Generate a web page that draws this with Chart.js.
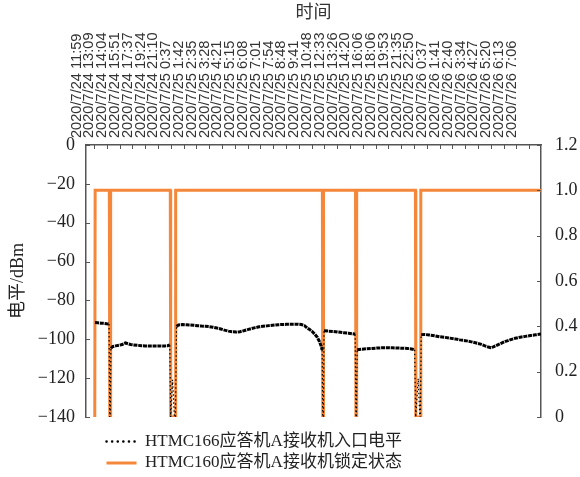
<!DOCTYPE html>
<html lang="zh">
<head>
  <meta charset="UTF-8">
  <title>HTMC 应答机接收机电平与锁定状态</title>
  <script src="https://cdn.jsdelivr.net/npm/chart.js"></script>
  <style>
    body {
      margin: 0;
      background: #fff;
    }
    #chart-container {
      width: 580px;
      height: 477px;
    }
  </style>
</head>
<body>
  <div id="chart-container">
    <canvas id="levelChart"></canvas>
  </div>

  <script>
    // top axis labels, one per tick (tick i sits at x = i)
    const timeLabels = [
      '2020/7/24 11:59', '2020/7/24 13:09', '2020/7/24 14:04', '2020/7/24 15:51',
      '2020/7/24 17:37', '2020/7/24 19:24', '2020/7/24 21:10', '2020/7/25 0:37',
      '2020/7/25 1:42', '2020/7/25 2:35', '2020/7/25 3:28', '2020/7/25 4:21',
      '2020/7/25 5:15', '2020/7/25 6:08', '2020/7/25 7:01', '2020/7/25 7:54',
      '2020/7/25 8:48', '2020/7/25 9:41', '2020/7/25 10:48', '2020/7/25 12:33',
      '2020/7/25 13:26', '2020/7/25 14:20', '2020/7/25 16:06', '2020/7/25 18:06',
      '2020/7/25 19:53', '2020/7/25 21:35', '2020/7/25 22:50', '2020/7/26 0:37',
      '2020/7/26 1:41', '2020/7/26 2:40', '2020/7/26 3:34', '2020/7/26 4:27',
      '2020/7/26 5:20', '2020/7/26 6:13', '2020/7/26 7:06'
    ];

    // HTMC166 receiver input level (dBm), position in tick units
    const levelPos = [
      0.08, 0.3, 0.55, 0.8, 1.0, 1.17,
      1.23, 1.27,
      1.32, 1.45, 1.7, 1.95, 2.2, 2.45, 2.6, 2.85, 3.1, 3.4, 3.7, 4.0, 4.3, 4.6, 4.9, 5.2, 5.5, 5.75, 5.92,
      5.99, 6.14, 6.28, 6.36,
      6.45, 6.6, 6.9, 7.2, 7.5, 7.8, 8.1, 8.4, 8.7, 9.0, 9.3, 9.6, 9.9, 10.2, 10.5, 10.8, 11.1, 11.4,
      11.7, 12.0, 12.3, 12.6, 12.9, 13.2, 13.5, 13.8, 14.1, 14.4, 14.7, 15.0, 15.3, 15.6, 15.9, 16.2,
      16.45, 16.65, 16.85, 17.05, 17.25, 17.45, 17.6, 17.75, 17.82,
      17.87, 17.92,
      17.97, 18.3, 18.7, 19.1, 19.5, 19.9, 20.25, 20.4,
      20.46, 20.5,
      20.56, 20.9, 21.3, 21.7, 22.1, 22.5, 22.9, 23.3, 23.7, 24.1, 24.5, 24.8, 25.05,
      25.13, 25.33, 25.45, 25.5,
      25.56, 25.8, 26.2, 26.6, 27.0, 27.4, 27.8, 28.2, 28.6, 29.0, 29.4, 29.8, 30.2, 30.5, 30.8, 31.0,
      31.2, 31.5, 31.8, 32.1, 32.5, 32.9, 33.3, 33.7, 34.1, 34.5, 34.92
    ];
    const levelDbm = [
      -91.4, -91.5, -91.7, -91.8, -92.0, -92.1,
      -140, -140,
      -104.6, -103.8, -103.4, -103.1, -102.7, -101.9, -102.2, -102.7, -102.9, -103.1, -103.3, -103.4, -103.5, -103.5, -103.5, -103.4, -103.5, -103.3, -102.9,
      -140, -120.8, -140, -140,
      -93.4, -92.6, -92.4, -92.5, -92.6, -92.8, -93.0, -93.2, -93.3, -93.5, -93.8, -94.2, -94.7, -95.3, -95.8, -96.1, -96.3, -96.1,
      -95.6, -95.0, -94.5, -94.0, -93.6, -93.3, -93.1, -92.9, -92.7, -92.5, -92.4, -92.3, -92.3, -92.2, -92.2, -92.4,
      -93.0, -94.2, -95.0, -96.0, -97.4, -99.0, -101.0, -103.5, -105.5,
      -140, -140,
      -95.6, -95.8, -96.0, -96.3, -96.6, -96.9, -97.2, -97.4,
      -140, -140,
      -105.4, -105.1, -104.9, -104.7, -104.5, -104.4, -104.3, -104.4, -104.5, -104.6, -104.7, -105.0, -105.4,
      -140, -120.2, -140, -140,
      -97.6, -97.5, -97.8, -98.2, -98.7, -99.0, -99.4, -99.8, -100.3, -100.7, -101.2, -101.8, -102.5, -103.3, -104.0, -104.3,
      -103.9, -103.0, -102.1, -101.2, -100.3, -99.5, -98.9, -98.5, -98.1, -97.7, -97.3
    ];

    // HTMC160 receiver lock state (1 = locked)
    const lockPos = [
      0.06, 0.09, 1.20, 1.23, 1.27, 1.30, 5.96, 5.99, 6.35, 6.38,
      17.84, 17.87, 17.90, 17.93, 20.43, 20.46, 20.49, 20.52,
      25.11, 25.14, 25.50, 25.53, 34.92
    ];
    const lockState = [
      0, 1, 1, 0, 0, 1, 1, 0, 0, 1,
      1, 0, 0, 1, 1, 0, 0, 1,
      1, 0, 0, 1, 1
    ];

    const levelTicks = [-140, -120, -100, -80, -60, -40, -20, 0];
    const stateTicks = [0, 0.2, 0.4, 0.6, 0.8, 1.0, 1.2];

    const serif = "'Liberation Serif', 'Noto Sans CJK SC', serif";
    const axisColor = '#555';

    function toPoints(xs, ys) {
      return xs.map((x, i) => ({ x: x, y: ys[i] }));
    }

    // a drop to the floor is drawn as a thin dotted stroke
    const isDrop = ctx => ctx.p0.parsed.y < -115 || ctx.p1.parsed.y < -115;

    // short inward tick marks on the three axes
    const innerTicks = {
      id: 'innerTicks',
      afterDraw(chart) {
        const { ctx, chartArea: a, scales } = chart;
        ctx.save();
        ctx.strokeStyle = axisColor;
        ctx.lineWidth = 1;
        ctx.beginPath();
        scales.x.ticks.forEach(t => {
          const px = Math.round(scales.x.getPixelForValue(t.value)) + 0.5;
          ctx.moveTo(px, a.top);
          ctx.lineTo(px, a.top + 4);
        });
        scales.y.ticks.forEach(t => {
          const py = Math.round(scales.y.getPixelForValue(t.value)) + 0.5;
          ctx.moveTo(a.left, py);
          ctx.lineTo(a.left + 4, py);
        });
        scales.y1.ticks.forEach(t => {
          const py = Math.round(scales.y1.getPixelForValue(t.value)) + 0.5;
          ctx.moveTo(a.right - 4, py);
          ctx.lineTo(a.right, py);
        });
        ctx.stroke();
        ctx.restore();
      }
    };

    // move the legend block under the plot, left aligned
    const legendPlace = {
      id: 'legendPlace',
      afterLayout(chart) {
        const lg = chart.legend;
        const h = lg.bottom - lg.top;
        lg.left = 102;
        lg.top = 428.5;
        lg.bottom = lg.top + h;
      }
    };

    const ctx = document.getElementById('levelChart').getContext('2d');
    new Chart(ctx, {
      type: 'line',
      data: {
        datasets: [
          {
            label: 'HTMC166应答机A接收机入口电平',
            data: toPoints(levelPos, levelDbm),
            yAxisID: 'y',
            borderColor: '#000',
            backgroundColor: '#000',
            borderWidth: 3,
            borderDash: [4, 0.8],
            pointRadius: 0,
            tension: 0,
            segment: {
              borderWidth: c => isDrop(c) ? 1.2 : undefined,
              borderDash: c => isDrop(c) ? [1.5, 2.5] : undefined
            }
          },
          {
            label: 'HTMC160应答机A接收机锁定状态',
            data: toPoints(lockPos, lockState),
            yAxisID: 'y1',
            borderColor: '#F5873A',
            backgroundColor: '#F5873A',
            borderWidth: 3,
            pointRadius: 0,
            tension: 0
          }
        ]
      },
      options: {
        responsive: true,
        maintainAspectRatio: false,
        animation: false,
        layout: { padding: { left: 0, right: 0, top: 0, bottom: 7 } },
        scales: {
          x: {
            type: 'linear',
            position: 'top',
            min: -0.625,
            max: 34.92,
            afterBuildTicks: scale => {
              scale.ticks = timeLabels.map((_, i) => ({ value: i }));
            },
            afterFit: scale => { scale.height = 145; },
            grid: { display: false, drawTicks: false },
            border: { display: true, color: axisColor, width: 1.5 },
            ticks: {
              autoSkip: false,
              minRotation: 90,
              maxRotation: 90,
              padding: 7,
              color: '#333',
              font: { family: "'Liberation Sans', Arial, sans-serif", size: 14.6 },
              callback: value => timeLabels[value]
            },
            title: {
              display: true,
              text: '时间',
              color: '#333',
              padding: { top: 2, bottom: 0 },
              font: { family: serif, size: 18 }
            }
          },
          y: {
            position: 'left',
            min: -140,
            max: 0,
            afterBuildTicks: scale => {
              scale.ticks = levelTicks.map(v => ({ value: v }));
            },
            afterFit: scale => { scale.width = 86; },
            grid: { display: false, drawTicks: false },
            border: { display: true, color: axisColor, width: 1.5 },
            ticks: {
              padding: 11,
              color: '#222',
              font: { family: serif, size: 18 },
              callback: v => v < 0 ? '\u2212' + Math.abs(v) : String(v)
            },
            title: {
              display: true,
              text: '电平/dBm',
              color: '#222',
              padding: { top: 7, bottom: 0 },
              font: { family: serif, size: 18 }
            }
          },
          y1: {
            position: 'right',
            min: 0,
            max: 1.2,
            afterBuildTicks: scale => {
              scale.ticks = stateTicks.map(v => ({ value: v }));
            },
            afterFit: scale => { scale.width = 39; },
            grid: { display: false, drawTicks: false },
            border: { display: true, color: axisColor, width: 1.5 },
            ticks: {
              padding: 14,
              color: '#222',
              font: { family: serif, size: 18 },
              callback: v => v === 0 ? '0' : v.toFixed(1)
            }
          }
        },
        plugins: {
          legend: {
            position: 'bottom',
            align: 'start',
            labels: {
              usePointStyle: true,
              pointStyle: 'line',
              pointStyleWidth: 30,
              padding: 4.5,
              color: '#222',
              font: { family: serif, size: 17 },
              generateLabels: chart => {
                const items = Chart.defaults.plugins.legend.labels.generateLabels(chart);
                items[0].lineDash = [0.1, 5.5];
                items[0].lineCap = 'round';
                items[0].lineWidth = 2.5;
                return items;
              }
            }
          },
          tooltip: { enabled: false }
        }
      },
      plugins: [innerTicks, legendPlace]
    });
  </script>
</body>
</html>
